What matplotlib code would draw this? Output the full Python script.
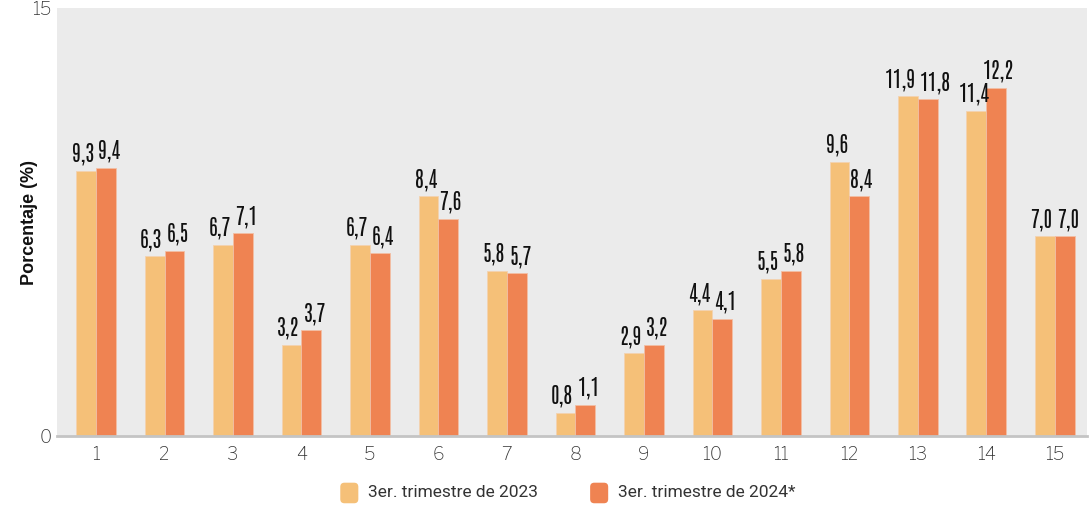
import matplotlib
matplotlib.use("Agg")
import matplotlib.pyplot as plt
import numpy as np
from matplotlib.patches import FancyBboxPatch, Patch
from matplotlib.legend_handler import HandlerPatch
from matplotlib.transforms import offset_copy

categories = [str(i) for i in range(1, 16)]
s2023 = [9.3, 6.3, 6.7, 3.2, 6.7, 8.4, 5.8, 0.8, 2.9, 4.4, 5.5, 9.6, 11.9, 11.4, 7.0]
s2024 = [9.4, 6.5, 7.1, 3.7, 6.4, 7.6, 5.7, 1.1, 3.2, 4.1, 5.8, 8.4, 11.8, 12.2, 7.0]
labels = ["3er. trimestre de 2023", "3er. trimestre de 2024*"]
c1, c2 = "#f5c078", "#ef8352"

plt.rcParams["font.family"] = ["Libre Franklin", "DejaVu Sans"]

fig = plt.figure(figsize=(10.91, 5.11), dpi=100)
ax = fig.add_axes([57/1091, 1-436/511, 1030/1091, 428/511])
ax.set_facecolor("#ebebeb")
x = np.arange(len(categories))
w = 0.29
b1 = ax.bar(x - w/2, s2023, w, color=c1, edgecolor="#f3d2b0", linewidth=0.6)
b2 = ax.bar(x + w/2, s2024, w, color=c2, edgecolor="#f2bfa5", linewidth=0.6)

lab_font = dict(family=["Antonio", "DejaVu Sans"], fontweight="bold", fontsize=15, color="#111111")
pairs = []
for r1, r2, v1, v2 in zip(b1, b2, s2023, s2024):
    t1 = ax.text(r1.get_x() + r1.get_width()/2, v1 + 0.2, f"{v1:.1f}".replace(".", ","),
                 ha="center", va="bottom", **lab_font)
    t2 = ax.text(r2.get_x() + r2.get_width()/2, v2 + 0.2, f"{v2:.1f}".replace(".", ","),
                 ha="center", va="bottom", **lab_font)
    pairs.append((t1, t2))

# push neighbouring labels apart so they never overlap (in pixels)
fig.canvas.draw()
renderer = fig.canvas.get_renderer()
for t1, t2 in pairs:
    e1 = t1.get_window_extent(renderer)
    e2 = t2.get_window_extent(renderer)
    vert = not (e1.y1 < e2.y0 or e2.y1 < e1.y0)
    shift = 2.0
    if vert:
        need = e1.x1 - e2.x0 + 3
        if need > 0:
            shift = max(shift, need / 2)
    t1.set_transform(offset_copy(ax.transData, fig=fig, x=-shift, y=0, units="dots"))
    t2.set_transform(offset_copy(ax.transData, fig=fig, x=shift, y=0, units="dots"))

ax.set_xlim(-0.57, 14.47)
ax.set_ylim(0, 15)
ax.set_yticks([0, 15])
ax.set_xticks(x)
ax.set_xticklabels(categories)
ax.tick_params(axis="both", length=0, labelsize=13, labelcolor="#333333")
ax.tick_params(axis="x", pad=7)
ax.tick_params(axis="y", pad=4)
for s in ("top", "right", "left"):
    ax.spines[s].set_visible(False)
ax.spines["bottom"].set_color("#c4c4c4")
ax.spines["bottom"].set_linewidth(2)
ax.set_ylabel("Porcentaje (%)", fontsize=13, fontweight="bold", color="#111111",
              family=["Liberation Sans", "DejaVu Sans"])
ax.yaxis.set_label_coords(-0.018, 0.5)


class RoundHandler(HandlerPatch):
    def create_artists(self, legend, orig_handle, xdescent, ydescent, width, height, fontsize, trans):
        p = FancyBboxPatch((-xdescent + 1, -ydescent - 2), width - 2, height + 2,
                           boxstyle="round,pad=0,rounding_size=3",
                           facecolor=orig_handle.get_facecolor(), edgecolor="none", transform=trans)
        return [p]


handles = [Patch(facecolor=c1), Patch(facecolor=c2)]
fig.legend(handles, labels, loc="lower center", bbox_to_anchor=(0.52, -0.01), ncol=2, frameon=False,
           handlelength=1.2, handleheight=1.2, columnspacing=2.9, handletextpad=0.5,
           labelcolor="#333333", handler_map={Patch: RoundHandler()},
           prop={"family": ["Roboto", "DejaVu Sans"], "size": 12.5})
fig.savefig("out.png", dpi=100)
